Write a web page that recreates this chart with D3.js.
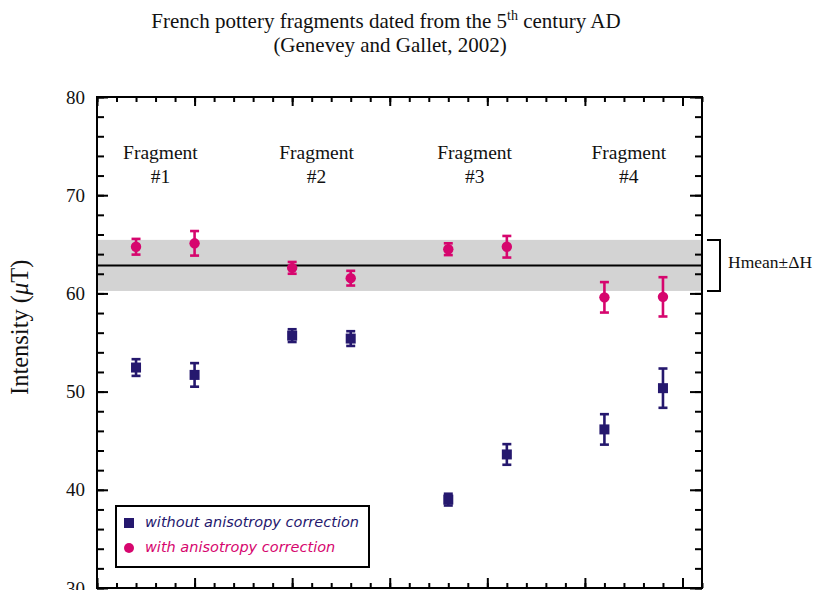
<!DOCTYPE html>
<html>
<head>
<meta charset="utf-8">
<script src="https://cdn.jsdelivr.net/npm/d3@7"></script>
<style>
  html, body { margin: 0; padding: 0; background: #fff; }
  svg { display: block; }
  .serif { font-family: "Liberation Serif", "Times New Roman", Times, serif; fill: #111; }
</style>
</head>
<body>
<svg id="chart" width="814" height="590"></svg>
<script>
// Sample positions along the (unlabelled) x axis
const positions = [0.4, 1.0, 2.0, 2.6, 3.6, 4.2, 5.2, 5.8];

// Intensity without anisotropy correction (µT) and its uncertainty
const withoutValues = [52.45, 51.7, 55.7, 55.4, 39.0, 43.6, 46.15, 50.35];
const withoutErrors = [0.85, 1.2, 0.65, 0.75, 0.6, 1.05, 1.55, 2.0];

// Intensity with anisotropy correction (µT) and its uncertainty
const withValues = [64.75, 65.1, 62.6, 61.55, 64.5, 64.75, 59.6, 59.65];
const withErrors = [0.8, 1.25, 0.6, 0.75, 0.6, 1.1, 1.55, 2.0];

// Mean intensity and its spread
const hMean = 62.85;
const deltaH = 2.6;

// Fragment group labels
const fragmentLabels = ["#1", "#2", "#3", "#4"];
const fragmentLabelX = [0.65, 2.25, 3.87, 5.45];

// Axis ticks
const yMajorTicks = [30, 40, 50, 60, 70, 80];
const yMinorTicks = d3.range(30, 80.01, 2);
const xMajorTicks = d3.range(0, 6.01, 1);
const xMinorTicks = d3.range(0, 6.21, 0.2);

const BLUE = "#25186e";
const PINK = "#d6066e";

const svg = d3.select("#chart");
const plotLeft = 97, plotRight = 702, plotTop = 97, plotBottom = 588;

const x = d3.scaleLinear().domain([0, 6.2]).range([plotLeft, plotRight]);
const y = d3.scaleLinear().domain([30, 80]).range([plotBottom, plotTop]);

// Shaded band Hmean ± ΔH
svg.append("rect")
  .attr("x", plotLeft).attr("width", plotRight - plotLeft)
  .attr("y", y(hMean + deltaH))
  .attr("height", y(hMean - deltaH) - y(hMean + deltaH))
  .attr("fill", "#d3d3d3");

// Mean line
svg.append("line")
  .attr("x1", plotLeft).attr("x2", plotRight)
  .attr("y1", y(hMean)).attr("y2", y(hMean))
  .attr("stroke", "#000").attr("stroke-width", 2);

// Axes: ticks point inward on all four sides
function styleAxis(g) {
  g.select(".domain").remove();
  g.selectAll(".tick line").attr("stroke", "#000").attr("stroke-width", 2);
}
const noLabel = () => "";

svg.append("g").attr("transform", `translate(${plotLeft},0)`)
  .call(d3.axisLeft(y).tickValues(yMinorTicks).tickSize(-7).tickFormat(noLabel)).call(styleAxis);
svg.append("g").attr("transform", `translate(${plotLeft},0)`)
  .call(d3.axisLeft(y).tickValues(yMajorTicks).tickSize(-11).tickPadding(12).tickFormat(d3.format("d")))
  .call(styleAxis)
  .call(g => g.selectAll(".tick text")
    .attr("class", "serif").attr("font-size", 19).attr("fill", "#111"));

svg.append("g").attr("transform", `translate(${plotRight},0)`)
  .call(d3.axisRight(y).tickValues(yMinorTicks).tickSize(-7).tickFormat(noLabel)).call(styleAxis);
svg.append("g").attr("transform", `translate(${plotRight},0)`)
  .call(d3.axisRight(y).tickValues(yMajorTicks).tickSize(-12).tickFormat(noLabel)).call(styleAxis);

svg.append("g").attr("transform", `translate(0,${plotBottom})`)
  .call(d3.axisBottom(x).tickValues(xMinorTicks).tickSize(-5).tickFormat(noLabel)).call(styleAxis);
svg.append("g").attr("transform", `translate(0,${plotBottom})`)
  .call(d3.axisBottom(x).tickValues(xMajorTicks).tickSize(-10).tickFormat(noLabel)).call(styleAxis);

svg.append("g").attr("transform", `translate(0,${plotTop})`)
  .call(d3.axisTop(x).tickValues(xMinorTicks).tickSize(-5).tickFormat(noLabel)).call(styleAxis);
svg.append("g").attr("transform", `translate(0,${plotTop})`)
  .call(d3.axisTop(x).tickValues(xMajorTicks).tickSize(-9).tickFormat(noLabel)).call(styleAxis);

// Plot frame
svg.append("rect")
  .attr("x", plotLeft).attr("y", plotTop)
  .attr("width", plotRight - plotLeft).attr("height", plotBottom - plotTop)
  .attr("fill", "none").attr("stroke", "#000").attr("stroke-width", 2);

// Error bars with caps
function errorBars(values, errors, color) {
  const g = svg.append("g").attr("stroke", color).attr("stroke-width", 2.6).attr("fill", "none");
  values.forEach((v, i) => {
    const cx = x(positions[i]);
    const y1 = y(v + errors[i]), y2 = y(v - errors[i]);
    g.append("line").attr("x1", cx).attr("x2", cx).attr("y1", y1).attr("y2", y2);
    g.append("line").attr("x1", cx - 4.5).attr("x2", cx + 4.5).attr("y1", y1).attr("y2", y1);
    g.append("line").attr("x1", cx - 4.5).attr("x2", cx + 4.5).attr("y1", y2).attr("y2", y2);
  });
}
errorBars(withoutValues, withoutErrors, BLUE);
errorBars(withValues, withErrors, PINK);

svg.append("g").selectAll("rect").data(withoutValues).join("rect")
  .attr("x", (d, i) => x(positions[i]) - 5)
  .attr("y", d => y(d) - 5)
  .attr("width", 10).attr("height", 10)
  .attr("fill", BLUE);

svg.append("g").selectAll("circle").data(withValues).join("circle")
  .attr("cx", (d, i) => x(positions[i]))
  .attr("cy", d => y(d))
  .attr("r", 5.2)
  .attr("fill", PINK);

// Fragment labels
fragmentLabels.forEach((lab, i) => {
  const t = svg.append("text").attr("class", "serif").attr("font-size", 19.5)
    .attr("text-anchor", "middle");
  t.append("tspan").attr("x", x(fragmentLabelX[i])).attr("y", y(73.65)).text("Fragment");
  t.append("tspan").attr("x", x(fragmentLabelX[i])).attr("y", y(71.25)).text(lab);
});

// Bracket marking Hmean ± ΔH
const bx = 720;
svg.append("path")
  .attr("d", `M707,${y(hMean + deltaH)}H${bx}V${y(hMean - deltaH)}H707`)
  .attr("fill", "none").attr("stroke", "#000").attr("stroke-width", 2);
svg.append("text").attr("class", "serif").attr("font-size", 17.5)
  .attr("x", 728).attr("y", y(hMean) + 3)
  .text("Hmean±ΔH");

// Title
const title = svg.append("text").attr("class", "serif").attr("font-size", 21)
  .attr("text-anchor", "middle").attr("x", 386).attr("y", 28);
title.append("tspan").text("French pottery fragments dated from the 5");
title.append("tspan").attr("font-size", 14).attr("dy", -8).text("th");
title.append("tspan").attr("dy", 8).text(" century AD");
svg.append("text").attr("class", "serif").attr("font-size", 21)
  .attr("text-anchor", "middle").attr("x", 390).attr("y", 52)
  .text("(Genevey and Gallet, 2002)");

// Y axis title
const yt = svg.append("text").attr("class", "serif").attr("font-size", 24.5)
  .attr("text-anchor", "start")
  .attr("transform", "translate(27.5,395) rotate(-90)");
yt.append("tspan").text("Intensity (");
yt.append("tspan").attr("font-style", "italic").text("μ");
yt.append("tspan").text("T)");

// Legend
const lg = svg.append("g");
lg.append("rect").attr("x", 116).attr("y", 506).attr("width", 253).attr("height", 61)
  .attr("fill", "#fff").attr("stroke", "#000").attr("stroke-width", 2);
lg.append("rect").attr("x", 124).attr("y", 518).attr("width", 10).attr("height", 10).attr("fill", BLUE);
lg.append("circle").attr("cx", 129).attr("cy", 548).attr("r", 5).attr("fill", PINK);
lg.append("text").attr("x", 145).attr("y", 527)
  .attr("font-family", "'DejaVu Sans', Verdana, sans-serif").attr("font-style", "italic")
  .attr("font-size", 14.5).attr("fill", BLUE).text("without anisotropy correction");
lg.append("text").attr("x", 145).attr("y", 552)
  .attr("font-family", "'DejaVu Sans', Verdana, sans-serif").attr("font-style", "italic")
  .attr("font-size", 14.5).attr("fill", PINK).text("with anisotropy correction");
</script>
</body>
</html>
